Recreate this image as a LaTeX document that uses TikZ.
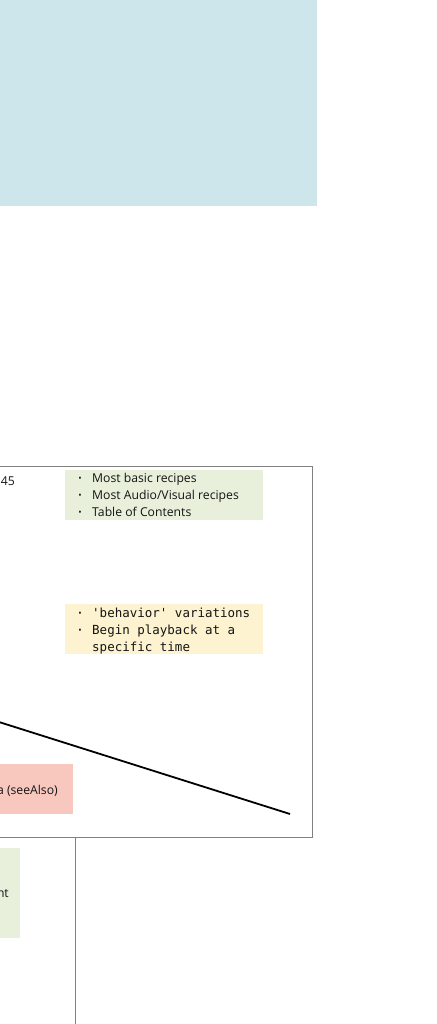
\documentclass[tikz,border=0pt]{standalone}
\usepackage{fontspec}
\setmainfont{Open Sans}
\newfontfamily\plexmono{DejaVu Sans Mono}
\definecolor{cblue}{RGB}{205,230,235}
\definecolor{cgreen}{RGB}{232,240,220}
\definecolor{cyellow}{RGB}{253,243,208}
\definecolor{cpink}{RGB}{248,200,190}
\definecolor{cframe}{RGB}{128,128,128}
\tikzset{
  fillbox/.style={draw=none, inner sep=0pt, outer sep=0pt, anchor=north west},
  sans/.style={inner sep=0pt, font=\fontsize{12.2}{17}\selectfont, text=black!92},
  dot/.style={inner sep=0pt, font=\fontsize{9}{17}\selectfont, text=black!92},
  mono/.style={inner sep=0pt, font=\plexmono\fontsize{12.5}{17}\selectfont, text=black!92},
  frameline/.style={draw=cframe, line width=0.9pt},
  edge/.style={draw=black, line width=1.8pt},
}
\begin{document}
\begin{tikzpicture}[x=1pt,y=-1pt]
\useasboundingbox (0,0) rectangle (436,1024);
\clip (0,0) rectangle (436,1024);
% blue panel
\node[fillbox, fill=cblue, minimum width=337pt, minimum height=226pt] (blue) at (-20,-20) {};
% frame
\node[fillbox, draw=cframe, line width=0.9pt, minimum width=332pt, minimum height=371pt] (frame) at (-20,466) {};
% green box
\node[fillbox, fill=cgreen, minimum width=198pt, minimum height=50pt] (green) at (65,470) {};
\node[dot, anchor=base] (gb1) at (80,481) {\textbullet};
\node[sans, anchor=base west] (gt1) at (92,482) {Most basic recipes};
\node[dot, anchor=base] (gb2) at (80,498) {\textbullet};
\node[sans, anchor=base west] (gt2) at (92,499) {Most Audio/Visual recipes};
\node[dot, anchor=base] (gb3) at (80,515) {\textbullet};
\node[sans, anchor=base west] (gt3) at (92,516) {Table of Contents};
% yellow box
\node[fillbox, fill=cyellow, minimum width=198pt, minimum height=50pt] (yellow) at (65,604) {};
\node[dot, anchor=base] (yb1) at (80,616) {\textbullet};
\node[mono, anchor=base west] (yt1) at (92,617) {'behavior' variations};
\node[dot, anchor=base] (yb2) at (80,633) {\textbullet};
\node[mono, anchor=base west] (yt2) at (92,634) {Begin playback at a};
\node[mono, anchor=base west] (yt3) at (92,651) {specific time};
% 45 label
\node[sans, anchor=base east] (num) at (15,485) {45};
% pink box
\node[fillbox, fill=cpink, minimum width=93pt, minimum height=50pt] (pink) at (-20,764) {};
\node[sans, anchor=base east] (pinktext) at (58,794) {a (seeAlso)};
% bottom green box
\node[fillbox, fill=cgreen, minimum width=40pt, minimum height=90pt] (green2) at (-20,848) {};
\node[sans, anchor=base east] (green2text) at (9,897) {nt};
% connector
\coordinate (cstart) at (-20,716);
\coordinate (cend) at (290,814);
\draw[edge] (cstart) -- (cend);
% vertical line below frame
\coordinate (vtop) at (75,837);
\coordinate (vbot) at (75,1030);
\draw[frameline] (vtop) -- (vbot);
\end{tikzpicture}
\end{document}
